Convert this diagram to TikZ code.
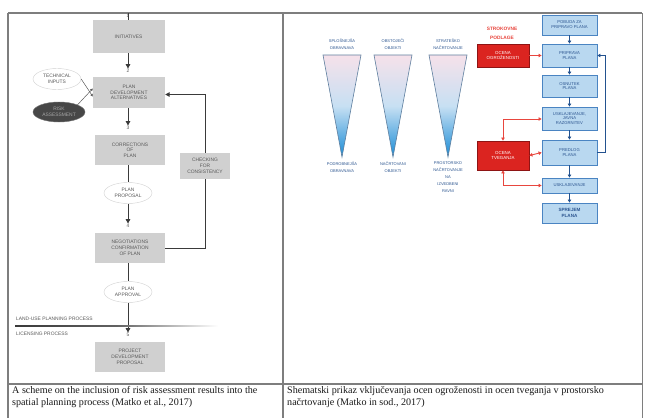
\documentclass[tikz,border=0pt]{standalone}
\usepackage{fontspec}
\setmainfont{Liberation Serif}
\newfontfamily\diagfont{Liberation Sans}
\usetikzlibrary{arrows.meta,shapes.geometric}

\definecolor{frame}{HTML}{7E7E7E}
\definecolor{boxgray}{HTML}{D0D0D0}
\definecolor{txtgray}{HTML}{5A5A5A}
\definecolor{linegray}{HTML}{3A3A3A}
\definecolor{bluefill}{HTML}{B9D8F0}
\definecolor{blueedge}{HTML}{4A84C2}
\definecolor{bluetext}{HTML}{2C5590}
\definecolor{bluearrow}{HTML}{23528F}
\definecolor{redfill}{HTML}{DB2420}
\definecolor{rededge}{HTML}{8E1414}
\definecolor{redline}{HTML}{E8463E}
\definecolor{tripink}{HTML}{F6E1EA}
\definecolor{triblue}{HTML}{1A8CD6}
\definecolor{triedge}{HTML}{5E7E9E}

\tikzset{
  tiny/.style={font=\diagfont\fontsize{4.9}{5.7}\selectfont},
  graybox/.style={tiny, fill=boxgray, text=txtgray, align=center,
    minimum width=70pt, minimum height=30pt, inner sep=1pt},
  grayoval/.style={tiny, ellipse, draw=boxgray, fill=white, text=txtgray,
    align=center, minimum width=48pt, minimum height=21pt, inner sep=0pt},
  numlabel/.style={tiny, text=txtgray, inner sep=0.5pt},
  flow/.style={draw=linegray, line width=1pt},
  flowarrow/.style={flow, -{Triangle[length=4.5pt,width=4.5pt]}},
  bluebox/.style={font=\diagfont\fontsize{4.2}{4.9}\selectfont, fill=bluefill,
    draw=blueedge, line width=0.9pt, text=bluetext, align=center,
    minimum width=55pt, inner sep=1pt},
  redbox/.style={font=\diagfont\fontsize{4.4}{5.6}\selectfont, fill=redfill,
    draw=rededge, line width=0.9pt, text=white, align=center,
    minimum width=52pt, inner sep=1pt},
  bluearr/.style={draw=bluearrow, line width=0.9pt,
    -{Triangle[length=3pt,width=3.5pt]}},
  redarr/.style={draw=redline, line width=0.9pt,
    -{Triangle[length=3pt,width=3.5pt]}},
  redboth/.style={draw=redline, line width=0.9pt,
    {Triangle[length=3pt,width=3.5pt]}-{Triangle[length=3pt,width=3.5pt]}},
  trilabel/.style={font=\diagfont\fontsize{4}{7}\selectfont, text=bluetext,
    align=center, inner sep=0pt},
  caption/.style={font=\fontsize{10.1}{12}\selectfont, align=left,
    anchor=north west, inner sep=0pt, text=black!90},
}

\begin{document}
\begin{tikzpicture}[x=1pt,y=-1pt]
\useasboundingbox (0,0) rectangle (646,418);
\fill[white] (0,0) rectangle (646,418);

% table frame
\draw[frame, line width=1.2pt] (8,13) -- (642,13);
\draw[frame, line width=1.2pt] (8,13) -- (8,418);
\draw[frame, line width=1.2pt] (283,13) -- (283,418);
\draw[frame, line width=0.6pt] (642,13) -- (642,418);
\draw[frame, line width=1.2pt] (8,384) -- (642,384);

% ---------- left scheme ----------
\coordinate (topin) at (128,13);
\node[numlabel] (n1) at (128,16) {1};
\node[graybox, minimum width=72pt, minimum height=33pt] (init) at (128.5,36.5) {INITIATIVES};
\node[numlabel] (n2) at (128,71) {2};
\node[graybox, minimum width=72pt, minimum height=31pt] (pda) at (129,92.5) {PLAN\\DEVELOPMENT\\ALTERNATIVES};
\node[grayoval] (tech) at (57,79) {TECHNICAL\\INPUTS};
\node[grayoval, fill=black!72, draw=black!55, text=black!35, minimum width=52pt, minimum height=20pt] (risk) at (59,112) {RISK\\ASSESSMENT};
\node[numlabel] (n3) at (128,128) {3};
\node[graybox] (corr) at (130,150) {CORRECTIONS\\OF\\PLAN};
\node[grayoval] (prop) at (128,193) {PLAN\\PROPOSAL};
\node[numlabel] (n4) at (128,226) {4};
\node[graybox] (nego) at (130,248) {NEGOTIATIONS\\CONFIRMATION\\OF PLAN};
\node[graybox, minimum width=50pt, minimum height=26pt] (check) at (205,166) {CHECKING\\FOR\\CONSISTENCY};
\node[grayoval] (appr) at (128,292) {PLAN\\APPROVAL};
\node[numlabel] (n5) at (128,335) {5};
\node[graybox] (proj) at (130,357) {PROJECT\\DEVELOPMENT\\PROPOSAL};

\draw[flow] (topin) -- (init.north -| topin);
\draw[flowarrow] (init.south -| n2) -- (n2.north);
\draw[flowarrow] (pda.south -| n3) -- (n3.north);
\draw[flow] (corr.south -| prop) -- (prop.north);
\draw[flowarrow] (prop.south) -- (n4.north);
\draw[flow] (nego.south -| appr) -- (appr.north);
\draw[flowarrow] (appr.south) -- (n5.north);
\draw[draw=txtgray, line width=0.5pt, -{Triangle[length=2.5pt,width=2.5pt]}] (tech.east) -- ([yshift=-4pt]pda.west);
\draw[draw=txtgray, line width=0.5pt, -{Triangle[length=2.5pt,width=2.5pt]}] (risk.north east) -- ([yshift=4pt]pda.west);
\draw[flow] (nego.east) -| (check.south);
\draw[flowarrow] (check.north) |- ([yshift=-2pt]pda.east);

% process boundary
\shade[left color=linegray, right color=white, middle color=linegray!80] (15,325.5) rectangle (218,326.7);
\node[tiny, text=txtgray, anchor=west, inner sep=0pt] (landuse) at (16,319) {LAND-USE PLANNING PROCESS};
\node[tiny, text=txtgray, anchor=west, inner sep=0pt] (licensing) at (16,334) {LICENSING PROCESS};

% ---------- right scheme ----------
% funnels
\shade[top color=tripink, bottom color=triblue, middle color=bluefill!80]
  (323,55) -- (361,55) -- (342,157) -- cycle;
\draw[triedge, line width=0.6pt] (323,55) -- (361,55) -- (342,157) -- cycle;
\shade[top color=tripink, bottom color=triblue, middle color=bluefill!80]
  (374,55) -- (412,55) -- (393,157) -- cycle;
\draw[triedge, line width=0.6pt] (374,55) -- (412,55) -- (393,157) -- cycle;
\shade[top color=tripink, bottom color=triblue, middle color=bluefill!80]
  (429,55) -- (467,55) -- (448,157) -- cycle;
\draw[triedge, line width=0.6pt] (429,55) -- (467,55) -- (448,157) -- cycle;

\node[trilabel] (t1a) at (342,44) {SPLOŠNEJŠA\\OBRAVNAVA};
\node[trilabel] (t2a) at (393,44) {OBSTOJEČI\\OBJEKTI};
\node[trilabel] (t3a) at (448,44) {STRATEŠKO\\NAČRTOVANJE};
\node[trilabel, anchor=north] (t1b) at (342,162) {PODROBNEJŠA\\OBRAVNAVA};
\node[trilabel, anchor=north] (t2b) at (393,162) {NAČRTOVANI\\OBJEKTI};
\node[trilabel, anchor=north] (t3b) at (448,162) {PROSTORSKO\\NAČRTOVANJE\\NA\\IZVEDBENI\\RAVNI};

% planning steps
\node[bluebox, minimum height=20pt] (b1) at (569.5,25) {POBUDA ZA\\PRIPRAVO PLANA};
\node[bluebox, minimum height=23pt] (b2) at (569.5,55.5) {PRIPRAVA\\PLANA};
\node[bluebox, minimum height=22pt] (b3) at (569.5,86) {OSNUTEK\\PLANA};
\node[bluebox, minimum height=23pt] (b4) at (569.5,118.5) {USKLAJEVANJE,\\JAVNA\\RAZGRNITEV};
\node[bluebox, minimum height=25pt] (b5) at (569.5,152.5) {PREDLOG\\PLANA};
\node[bluebox, minimum height=15pt] (b6) at (569.5,185.5) {USKLAJEVANJE};
\node[bluebox, minimum height=20pt, font=\diagfont\bfseries\fontsize{4.6}{6.6}\selectfont] (b7) at (569.5,213) {SPREJEM\\PLANA};

\draw[bluearr] (b1) -- (b2);
\draw[bluearr] (b2) -- (b3);
\draw[bluearr] (b3) -- (b4);
\draw[bluearr] (b4) -- (b5);
\draw[bluearr] (b5) -- (b6);
\draw[bluearr] (b6) -- (b7);
\draw[bluearr] (b5.east) -- ++(8,0) |- (b2.east);

% expert groundwork
\node[font=\diagfont\bfseries\fontsize{4.8}{9}\selectfont, text=redline, align=center, inner sep=0pt] (strok) at (502,33) {STROKOVNE\\PODLAGE};
\node[redbox, minimum height=23pt] (ogr) at (503,55.5) {OCENA\\OGROŽENOSTI};
\node[redbox, minimum height=29pt] (tveg) at (503,155.5) {OCENA\\TVEGANJA};

\draw[redarr] (ogr.east) -- (b2.west);
\draw[redboth] (tveg.east) -- (b5.west);
\draw[redboth] (tveg.north) |- (b4.west |- 0,119);
\draw[redboth] (tveg.south) |- (b6.west);

% ---------- captions ----------
\node[caption] (capL) at (12,386) {A scheme on the inclusion of risk assessment results into the\\spatial planning process (Matko et al., 2017)};
\node[caption] (capR) at (287,386) {Shematski prikaz vključevanja ocen ogroženosti in ocen tveganja v prostorsko\\načrtovanje (Matko in sod., 2017)};
\end{tikzpicture}
\end{document}
